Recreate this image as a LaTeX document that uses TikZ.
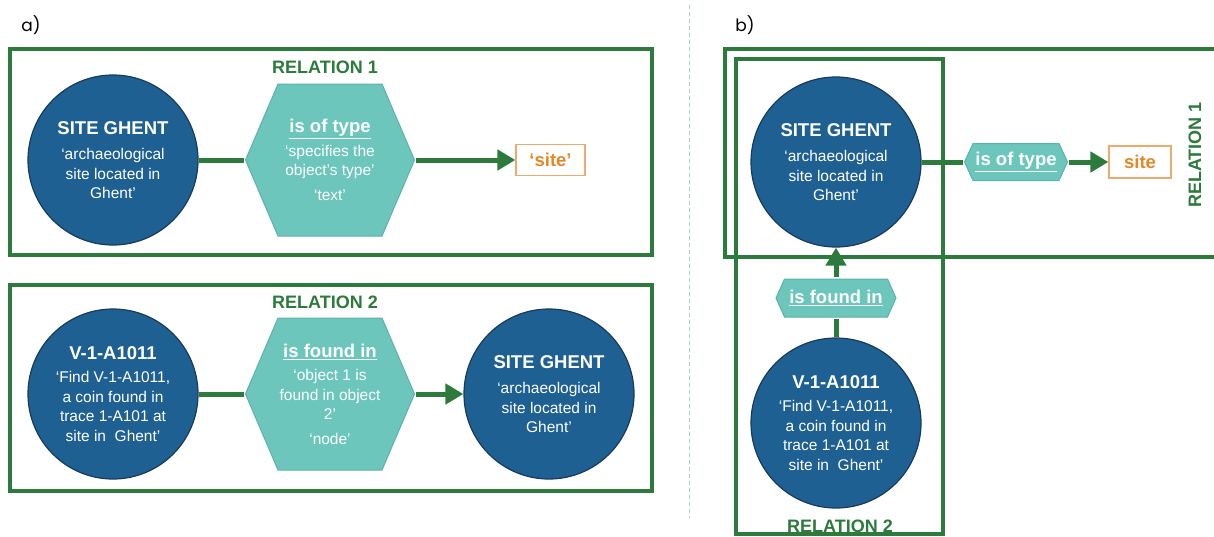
\documentclass[tikz,border=0pt]{standalone}
\usepackage{fontspec}
\setmainfont{Liberation Sans}
\newfontfamily\panelfont{Poppins}
\usetikzlibrary{arrows.meta}
\definecolor{relgreen}{RGB}{44,122,60}
\definecolor{circblue}{RGB}{31,96,146}
\definecolor{circedge}{RGB}{24,58,92}
\definecolor{hexteal}{RGB}{108,198,188}
\definecolor{hexedge}{RGB}{92,178,168}
\definecolor{siteorange}{RGB}{228,135,40}
\definecolor{siteedge}{RGB}{240,170,110}
\definecolor{dashgray}{RGB}{176,200,208}
\begin{document}
\begin{tikzpicture}[x=1pt,y=-1pt,
  relframe/.style={draw=relgreen, line width=4pt},
  reltitle/.style={text=relgreen, font=\fontsize{18}{20}\selectfont\bfseries, inner sep=0pt},
  panellabel/.style={font=\panelfont\fontsize{17}{20}\selectfont, inner sep=0pt},
  entity/.style={circle, fill=circblue, draw=circedge, line width=1.2pt, minimum size=170pt, inner sep=0pt, text=white, align=center, font=\fontsize{15.5}{19.5}\selectfont},
  hexpic/.style={path picture={\draw[fill=hexteal, draw=hexedge, line width=1pt]
     ([xshift=1.5pt]path picture bounding box.west)
     -- ([xshift=#1, yshift=-1.5pt]path picture bounding box.north west)
     -- ([xshift=-#1, yshift=-1.5pt]path picture bounding box.north east)
     -- ([xshift=-1.5pt]path picture bounding box.east)
     -- ([xshift=-#1, yshift=1.5pt]path picture bounding box.south east)
     -- ([xshift=#1, yshift=1.5pt]path picture bounding box.south west) -- cycle;}},
  relhex/.style={rectangle, inner sep=0pt, text=white, align=center, font=\fontsize{15.5}{19.5}\selectfont},
  bighex/.style={relhex, minimum width=172pt, minimum height=155pt, hexpic=34pt},
  smallhex/.style={relhex, minimum height=40pt, hexpic=10pt},
  sitebox/.style={draw=siteedge, line width=1.2pt, text=siteorange, font=\fontsize{18.5}{20}\selectfont\bfseries, inner sep=0pt, minimum height=31pt},
  conn/.style={draw=relgreen, line width=5pt},
  arrowconn/.style={conn, -{Triangle[length=18pt,width=20pt]}}
]
\useasboundingbox (0,0) rectangle (1214,536);
\clip (0,0) rectangle (1214,536);
\fill[white] (0,0) rectangle (1214,536);

% separator
\draw[dashgray, line width=1pt, dash pattern=on 4pt off 3pt] (689,5) -- (689,518);

% panel labels
\node[panellabel] (la) at (31,25) {a)};
\node[panellabel] (lb) at (745,25) {b)};

% ---------- panel a ----------
\draw[relframe] (10,49) rectangle (652,255);
\draw[relframe] (10,285) rectangle (652,491);
\node[reltitle] (t1a) at (325,67) {RELATION 1};
\node[reltitle] (t2a) at (325,302) {RELATION 2};

\node[entity] (c1a) at (113,160) {{\fontsize{18.5}{20}\selectfont\bfseries SITE GHENT}\\[6pt]‘archaeological\\site located in\\Ghent’};
\node[bighex] (h1a) at (330,160) {{\fontsize{18.5}{20}\selectfont\bfseries\underline{is of type}}\\[4pt]‘specifies the\\object’s type’\\[5pt]‘text’};
\node[sitebox, minimum width=69pt] (s1a) at (550.5,160) {‘site’};
\draw[conn] (c1a.east) -- (h1a.west);
\draw[arrowconn] (h1a.east) -- (s1a.west);

\node[entity] (c2a) at (113,394) {{\fontsize{18.5}{20}\selectfont\bfseries V-1-A1011}\\[4pt]‘Find V-1-A1011,\\a coin found in\\trace 1-A101 at\\site in\ \ Ghent’};
\node[bighex] (h2a) at (330,394) {{\fontsize{18.5}{20}\selectfont\bfseries\underline{is found in}}\\[4pt]‘object 1 is\\found in object\\2’\\[5pt]‘node’};
\node[entity] (c3a) at (549,394) {{\fontsize{18.5}{20}\selectfont\bfseries SITE GHENT}\\[6pt]‘archaeological\\site located in\\Ghent’};
\draw[conn] (c2a.east) -- (h2a.west);
\draw[arrowconn] (h2a.east) -- (c3a.west);

% ---------- panel b ----------
\draw[relframe] (725,49) rectangle (1240,257);
\draw[relframe] (736,59) rectangle (943,534);
\node[reltitle, rotate=90] (t1b) at (1195,155) {RELATION 1};
\node[reltitle] (t2b) at (840,526) {RELATION 2};

\node[entity] (cb1) at (836,162) {{\fontsize{18.5}{20}\selectfont\bfseries SITE GHENT}\\[6pt]‘archaeological\\site located in\\Ghent’};
\node[smallhex, minimum width=106pt] (hb1) at (1016,162) {{\fontsize{18.5}{20}\selectfont\bfseries\underline{is of type}}};
\node[sitebox, minimum width=62pt, minimum height=32pt] (sb1) at (1140,162) {site};
\draw[conn] (cb1.east) -- (hb1.west);
\draw[arrowconn] (hb1.east) -- (sb1.west);

\node[entity] (cb2) at (836,423) {{\fontsize{18.5}{20}\selectfont\bfseries V-1-A1011}\\[4pt]‘Find V-1-A1011,\\a coin found in\\trace 1-A101 at\\site in\ \ Ghent’};
\node[smallhex, minimum width=123pt, minimum height=41pt] (hb2) at (836,298) {{\fontsize{18.5}{20}\selectfont\bfseries\underline{is found in}}};
\draw[conn] (cb2.north) -- (hb2.south);
\draw[arrowconn] (hb2.north) -- (cb1.south);
\end{tikzpicture}
\end{document}
